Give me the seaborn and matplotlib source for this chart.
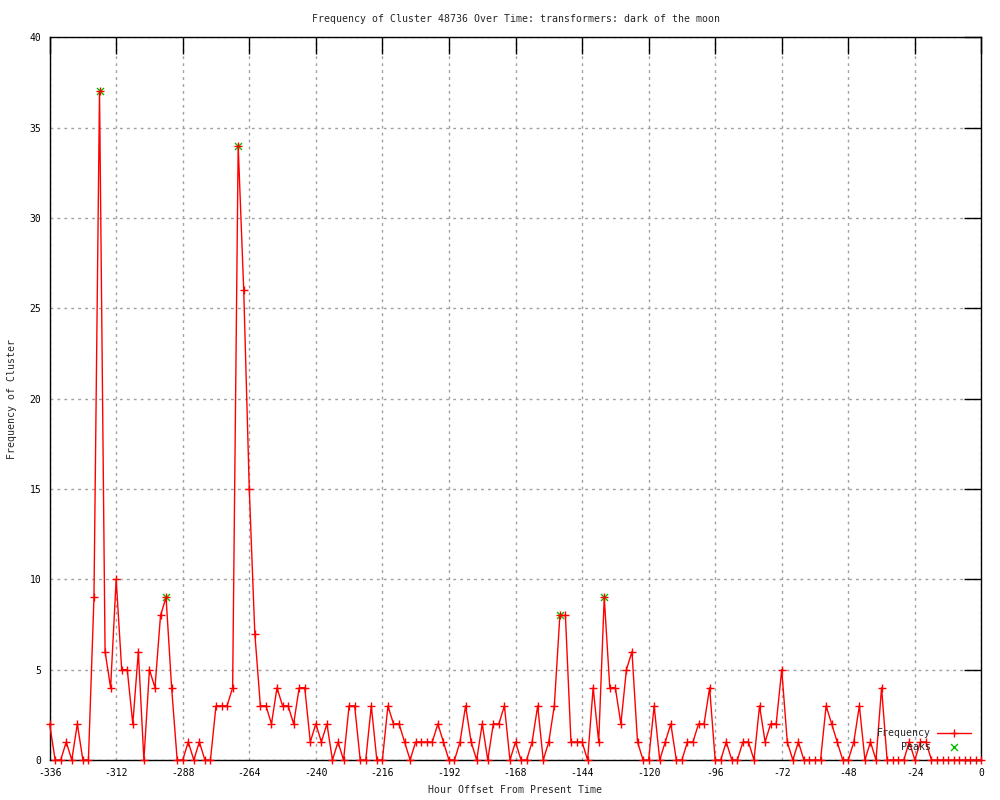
import numpy as np
import pandas as pd
import matplotlib
matplotlib.use("Agg")
import matplotlib.pyplot as plt
import seaborn as sns

# hour offsets, one sample every 2 hours
hours = list(range(-336, 1, 2))
frequency = [
    2, 0, 0, 1, 0, 2, 0, 0, 9, 37,          # -336 .. -318
    6, 4, 10, 5, 5, 2, 6, 0, 5, 4,          # -316 .. -298
    8, 9, 4, 0, 0, 1, 0, 1, 0, 0,           # -296 .. -278
    3, 3, 3, 4, 34, 26, 15, 7, 3, 3,        # -276 .. -258
    2, 4, 3, 3, 2, 4, 4, 1, 2, 1,           # -256 .. -238
    2, 0, 1, 0, 3, 3, 0, 0, 3, 0,           # -236 .. -218
    0, 3, 2, 2, 1, 0, 1, 1, 1, 1,           # -216 .. -198
    2, 1, 0, 0, 1, 3, 1, 0, 2, 0,           # -196 .. -178
    2, 2, 3, 0, 1, 0, 0, 1, 3, 0,           # -176 .. -158
    1, 3, 8, 8, 1, 1, 1, 0, 4, 1,           # -156 .. -138
    9, 4, 4, 2, 5, 6, 1, 0, 0, 3,           # -136 .. -118
    0, 1, 2, 0, 0, 1, 1, 2, 2, 4,           # -116 .. -98
    0, 0, 1, 0, 0, 1, 1, 0, 3, 1,           # -96 .. -78
    2, 2, 5, 1, 0, 1, 0, 0, 0, 0,           # -76 .. -58
    3, 2, 1, 0, 0, 1, 3, 0, 1, 0,           # -56 .. -38
    4, 0, 0, 0, 0, 1, 0, 1, 1, 0,           # -36 .. -18
    0, 0, 0, 0, 0, 0, 0, 0, 0,              # -16 .. 0
]
peak_hours = [-318, -294, -268, -152, -136]
peak_values = [37, 9, 34, 8, 9]

x_ticks = list(range(-336, 1, 24))
y_ticks = list(range(0, 41, 5))

sns.set_style("white")
plt.rcParams['font.family'] = ['DejaVu Sans Mono']
plt.rcParams['font.size'] = 7
plt.rcParams['axes.unicode_minus'] = False

df = pd.DataFrame({"hour": hours, "freq": frequency})

fig = plt.figure(figsize=(10, 8), dpi=100)
ax = fig.add_axes([0.0496, 0.05, 0.9318, 0.9035])

sns.scatterplot(x=peak_hours, y=peak_values, ax=ax, marker="x", color="#00c000",
                s=25, linewidth=1, label="Peaks", zorder=2, clip_on=False)
sns.lineplot(data=df, x="hour", y="freq", ax=ax, color="red", linewidth=1,
             marker="+", markersize=5.5, markeredgewidth=1, markeredgecolor="red",
             errorbar=None, label="Frequency", clip_on=False, zorder=3)

ax.set_xlim(-336, 0)
ax.set_ylim(0, 40)
ax.set_xticks(x_ticks)
ax.set_yticks(y_ticks)
ax.grid(True, color="#a0a0a0", linestyle=(0, (2, 3)), linewidth=1)
ax.set_axisbelow(True)
ax.tick_params(direction="in", length=12, width=1, top=True, right=True,
               labelsize=7, pad=6, colors="black")
for s in ax.spines.values():
    s.set_color("black")
    s.set_linewidth(1)

ax.set_title("Frequency of Cluster 48736 Over Time: transformers: dark of the moon",
             fontsize=7.1, pad=11)
ax.set_xlabel("Hour Offset From Present Time", fontsize=7.1, labelpad=5)
ax.set_ylabel("Frequency of Cluster", fontsize=7.1, labelpad=9)

handles, labels = ax.get_legend_handles_labels()
order = [labels.index("Frequency"), labels.index("Peaks")]
ax.legend([handles[i] for i in order], [labels[i] for i in order],
          loc="lower right", bbox_to_anchor=(0.993, 0.006), frameon=False,
          markerfirst=False, fontsize=7.1, handlelength=3.4, handletextpad=0.7,
          labelspacing=0.35, borderaxespad=0)

fig.savefig("out.png", dpi=100)
